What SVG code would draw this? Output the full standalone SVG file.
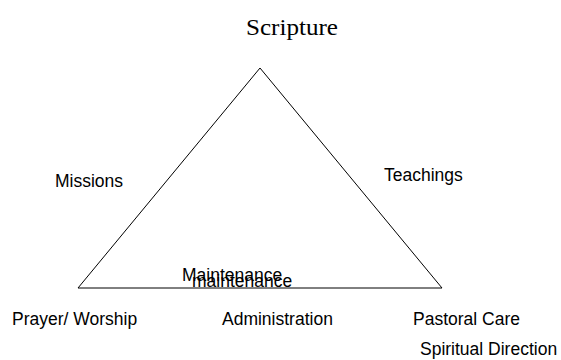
<svg xmlns="http://www.w3.org/2000/svg" width="561" height="360" viewBox="0 0 561 360">
<style>
.l{font-family:"Liberation Sans",Arial,sans-serif;font-size:17.5px;fill:#000}
.t{font-family:"Liberation Serif","Times New Roman",serif;font-size:24px;fill:#000}
.e{fill:none;stroke:#000;stroke-width:1}
</style>
<rect width="561" height="360" fill="#fff"/>
<g id="connectors">
<path class="e" d="M78,288 L260,68 L442,288 Z"/>
</g>
<g id="scripture"><text class="t" x="246" y="35" textLength="92" lengthAdjust="spacingAndGlyphs">Scripture</text></g>
<g id="missions"><text class="l" x="55" y="187">Missions</text></g>
<g id="teachings"><text class="l" x="384" y="181">Teachings</text></g>
<g id="maintenance1"><text class="l" x="182" y="281">Maintenance</text></g>
<g id="maintenance2"><text class="l" x="192" y="287">maintenance</text></g>
<g id="prayer"><text class="l" x="12" y="325">Prayer/ Worship</text></g>
<g id="administration"><text class="l" x="222" y="325">Administration</text></g>
<g id="pastoral"><text class="l" x="413" y="325">Pastoral Care</text></g>
<g id="spiritual"><text class="l" x="420" y="355">Spiritual Direction</text></g>
</svg>
